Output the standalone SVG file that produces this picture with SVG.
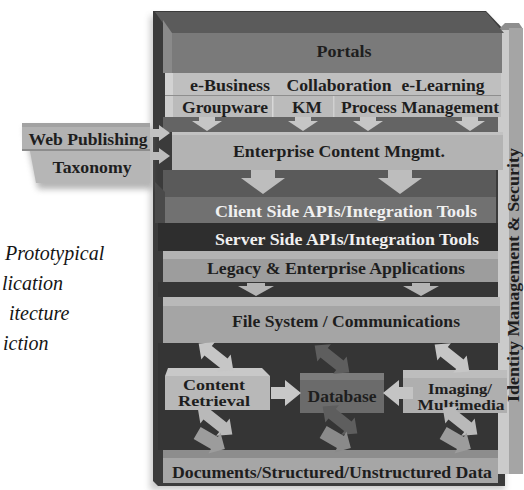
<svg xmlns="http://www.w3.org/2000/svg" xmlns:xlink="http://www.w3.org/1999/xlink" width="524" height="490" viewBox="0 0 524 490">
  <defs>
    <style>
      .lbl{font-family:"Liberation Serif","Times New Roman","DejaVu Serif",serif;font-weight:bold;font-size:17px;fill:#1e1e1e;text-anchor:middle}
      .sm{font-size:14px}
      .id{font-size:16px}
      .wht{fill:#f0f0f0}
      .cap{font-family:"Liberation Serif","Times New Roman","DejaVu Serif",serif;font-style:italic;font-size:20px;fill:#151515}
      .lt{fill:#c6c6c6}
      .md{fill:#9c9c9c}
      .dk{fill:#5e5e5e}
    </style>
    <filter id="soft" x="-20%" y="-20%" width="140%" height="140%">
      <feGaussianBlur stdDeviation="3"/>
    </filter>
    <!-- arrow shapes, drawn around their own origin -->
    <path id="downSmall" d="M-8,0 H8 V4 H15 L0,14 L-15,4 H-8 Z"/>
    <path id="downBig" d="M-12,0 H12 V8 H22 L0,24 L-22,8 H-12 Z"/>
    <path id="downFlat" d="M-9,0 H9 V3 H18 L0,13 L-18,3 H-9 Z"/>
    <path id="twoWay" d="M-22,0 L-10,-11 L-10,-6 L10,-6 L10,-11 L22,0 L10,11 L10,6 L-10,6 L-10,11 Z"/>
    <path id="oneWay" d="M-16,-7 H4 V-12 L16,0 L4,12 V7 H-16 Z"/>
    <path id="side" d="M0,-6 H14 V-13 L30,0 L14,13 V6 H0 Z"/>
    <path id="tiny" d="M0,-4 H9 V-8 L20,0 L9,8 V4 H0 Z"/>
  </defs>

  <rect width="524" height="490" fill="#ffffff"/>

  <!-- stack casing -->
  <g id="frame">
    <path d="M150,16 H486 L505,36 V490 H150 Z" fill="#8a8a8a" opacity="0.45" filter="url(#soft)"/>
    <path d="M153,11 H486 L505,31 V486 H158 L153,481 Z" fill="#3b3b3b"/>
  </g>

  <g id="identity-security">
    <polygon points="497,31 505,23 519,23 523,29 511,31" fill="#8e8e8e"/>
    <rect x="498" y="30" width="12" height="444" fill="#cbcbcb"/>
    <rect x="509" y="28" width="14" height="446" fill="#a5a5a5"/>
    <text class="lbl id" transform="translate(519,275) rotate(-90)" textLength="254" lengthAdjust="spacingAndGlyphs">Identity Management &amp; Security</text>
  </g>

  <g id="portals">
    <polygon points="155,12 486,12 504,33 170,33" fill="#5b5b5b"/>
    <polygon points="163,20 172,33 172,73 163,73" fill="#8a8a8a"/>
    <rect x="172" y="33" width="330" height="40" fill="#7a7a7a"/>
    <text class="lbl" x="344" y="57" textLength="55" lengthAdjust="spacingAndGlyphs">Portals</text>
  </g>

  <g id="business-row">
    <rect x="165" y="73" width="336" height="22" fill="#bfbfbf"/>
    <rect x="165" y="73" width="8" height="22" fill="#d2d2d2"/>
    <text class="lbl" x="230" y="91" textLength="80" lengthAdjust="spacingAndGlyphs">e-Business</text>
    <text class="lbl" x="339" y="91" textLength="105" lengthAdjust="spacingAndGlyphs">Collaboration</text>
    <text class="lbl" x="443" y="91" textLength="83" lengthAdjust="spacingAndGlyphs">e-Learning</text>
  </g>

  <g id="groupware-row">
    <rect x="165" y="95" width="336" height="22" fill="#bbbbbb"/>
    <rect x="165" y="95" width="8" height="22" fill="#cecece"/>
    <rect x="165" y="95" width="336" height="1" fill="#8e8e8e"/>
    <rect x="272" y="96" width="1.5" height="21" fill="#d8d8d8"/>
    <rect x="333" y="96" width="1.5" height="21" fill="#d0d0d0"/>
    <text class="lbl" x="225" y="113" textLength="86" lengthAdjust="spacingAndGlyphs">Groupware</text>
    <text class="lbl" x="307" y="113" textLength="30" lengthAdjust="spacingAndGlyphs">KM</text>
    <text class="lbl" x="420" y="113" textLength="158" lengthAdjust="spacingAndGlyphs">Process Management</text>
  </g>

  <g id="content-management">
    <rect x="163" y="117" width="335" height="15" fill="#646464"/>
    <rect x="172" y="132" width="331" height="38" fill="#b3b3b3"/>
    <rect x="172" y="132" width="331" height="3" fill="#c2c2c2"/>
    <text class="lbl" x="339" y="157" textLength="212" lengthAdjust="spacingAndGlyphs">Enterprise Content Mngmt.</text>
  </g>

  <g id="client-apis">
    <rect x="163" y="170" width="333" height="27" fill="#5a5a5a"/>
    <polygon points="155,182 165,192 165,223 155,223" fill="#4a4a4a"/>
    <rect x="165" y="197" width="331" height="26" fill="#717171"/>
    <text class="lbl wht" x="346" y="217" textLength="262" lengthAdjust="spacingAndGlyphs">Client Side APIs/Integration Tools</text>
  </g>

  <g id="server-apis">
    <rect x="158" y="223" width="340" height="28" fill="#2e2e2e"/>
    <text class="lbl wht" x="347" y="245" textLength="264" lengthAdjust="spacingAndGlyphs">Server Side APIs/Integration Tools</text>
  </g>

  <g id="legacy-apps">
    <rect x="163" y="251" width="335" height="8" fill="#b3b3b3"/>
    <rect x="163" y="259" width="335" height="23" fill="#9d9d9d"/>
    <text class="lbl" x="336" y="274" textLength="258" lengthAdjust="spacingAndGlyphs">Legacy &amp; Enterprise Applications</text>
  </g>

  <g id="file-system">
    <rect x="158" y="282" width="340" height="15" fill="#363636"/>
    <rect x="163" y="297" width="337" height="9" fill="#b9b9b9"/>
    <rect x="163" y="306" width="337" height="37" fill="#a5a5a5"/>
    <text class="lbl" x="346" y="327" textLength="228" lengthAdjust="spacingAndGlyphs">File System / Communications</text>
  </g>

  <g id="documents-data">
    <rect x="158" y="343" width="340" height="107" fill="#353535"/>
    <rect x="163" y="450" width="335" height="8" fill="#8d8d8d"/>
    <rect x="163" y="458" width="335" height="25" fill="#a6a6a6"/>
    <text class="lbl" x="332" y="478" textLength="320" lengthAdjust="spacingAndGlyphs">Documents/Structured/Unstructured Data</text>
  </g>

  <g id="content-retrieval">
    <polygon points="168,368 262,368 270,376 165,376" fill="#c8c8c8"/>
    <rect x="165" y="376" width="105" height="34" fill="#b8b8b8"/>
    <text class="lbl sm" x="214" y="390" textLength="62" lengthAdjust="spacingAndGlyphs">Content</text>
    <text class="lbl sm" x="214" y="406" textLength="72" lengthAdjust="spacingAndGlyphs">Retrieval</text>
  </g>

  <g id="database">
    <rect x="300" y="373" width="84" height="7" fill="#7c7c7c"/>
    <rect x="300" y="380" width="84" height="33" fill="#6b6b6b"/>
    <text class="lbl" x="342" y="402" textLength="69" lengthAdjust="spacingAndGlyphs">Database</text>
  </g>

  <g id="imaging-multimedia">
    <rect x="403" y="370" width="104" height="8" fill="#bdbdbd"/>
    <rect x="403" y="378" width="104" height="35" fill="#afafaf"/>
    <text class="lbl sm" x="460" y="394" textLength="64" lengthAdjust="spacingAndGlyphs">Imaging/</text>
    <text class="lbl sm" x="461" y="410" textLength="87" lengthAdjust="spacingAndGlyphs">Multimedia</text>
  </g>

  <g id="web-publishing">
    <path d="M24,128 H152 V189 H38 Z" fill="#777777" opacity="0.55" filter="url(#soft)"/>
    <rect x="22" y="123" width="128" height="26" fill="#b2b2b2"/>
    <rect x="22" y="123" width="128" height="4" fill="#a2a2a2"/>
    <rect x="22" y="149" width="128" height="2" fill="#8c8c8c"/>
    <polygon points="30,151 150,151 150,183 36,183" fill="#b6b6b6"/>
    <text class="lbl" x="88" y="145" textLength="119" lengthAdjust="spacingAndGlyphs">Web Publishing</text>
    <text class="lbl" x="92" y="173" textLength="79" lengthAdjust="spacingAndGlyphs">Taxonomy</text>
  </g>

  <g id="connectors">
    <!-- feeds from the upper rows down to content management -->
    <use xlink:href="#downSmall" class="lt" transform="translate(207,117)"/>
    <use xlink:href="#downSmall" class="lt" transform="translate(303,117)"/>
    <use xlink:href="#downSmall" class="lt" transform="translate(368,117)"/>
    <use xlink:href="#downSmall" class="lt" transform="translate(470,117)"/>
    <!-- content management down to the API layers -->
    <use xlink:href="#downBig" fill="#bdbdbd" transform="translate(263,170)"/>
    <use xlink:href="#downBig" fill="#bdbdbd" transform="translate(400,170)"/>
    <!-- applications down to the file system -->
    <use xlink:href="#downFlat" fill="#b4b4b4" transform="translate(256,283)"/>
    <use xlink:href="#downFlat" fill="#b4b4b4" transform="translate(421,283)"/>
    <!-- file system to stores -->
    <use xlink:href="#twoWay" class="lt" transform="translate(216,357) rotate(38)"/>
    <use xlink:href="#twoWay" class="dk" transform="translate(332,359) rotate(38)"/>
    <use xlink:href="#twoWay" class="lt" transform="translate(452,358) rotate(38)"/>
    <!-- stores to documents -->
    <use xlink:href="#twoWay" fill="#b9b9b9" transform="translate(215,421) rotate(38)"/>
    <use xlink:href="#twoWay" class="dk" transform="translate(340,420) rotate(38)"/>
    <use xlink:href="#twoWay" fill="#b9b9b9" transform="translate(460,421) rotate(38)"/>
    <use xlink:href="#oneWay" class="md" transform="translate(211,441) rotate(30)"/>
    <use xlink:href="#oneWay" fill="#8a8a8a" transform="translate(337,440) rotate(30)"/>
    <use xlink:href="#oneWay" class="md" transform="translate(457,441) rotate(30)"/>
    <!-- side links into the database -->
    <use xlink:href="#side" fill="#c8c8c8" transform="translate(271,393)"/>
    <use xlink:href="#side" fill="#c4c4c4" transform="translate(413,393) scale(-1,1)"/>
    <!-- web publishing into content management -->
    <use xlink:href="#tiny" fill="#c2c2c2" transform="translate(150,133)"/>
    <use xlink:href="#tiny" fill="#bcbcbc" transform="translate(150,156)"/>
  </g>

  <g id="caption">
    <text class="cap" x="5" y="260">Prototypical</text>
    <text class="cap" x="2" y="290">lication</text>
    <text class="cap" x="9" y="320">itecture</text>
    <text class="cap" x="3" y="350">iction</text>
  </g>
</svg>
